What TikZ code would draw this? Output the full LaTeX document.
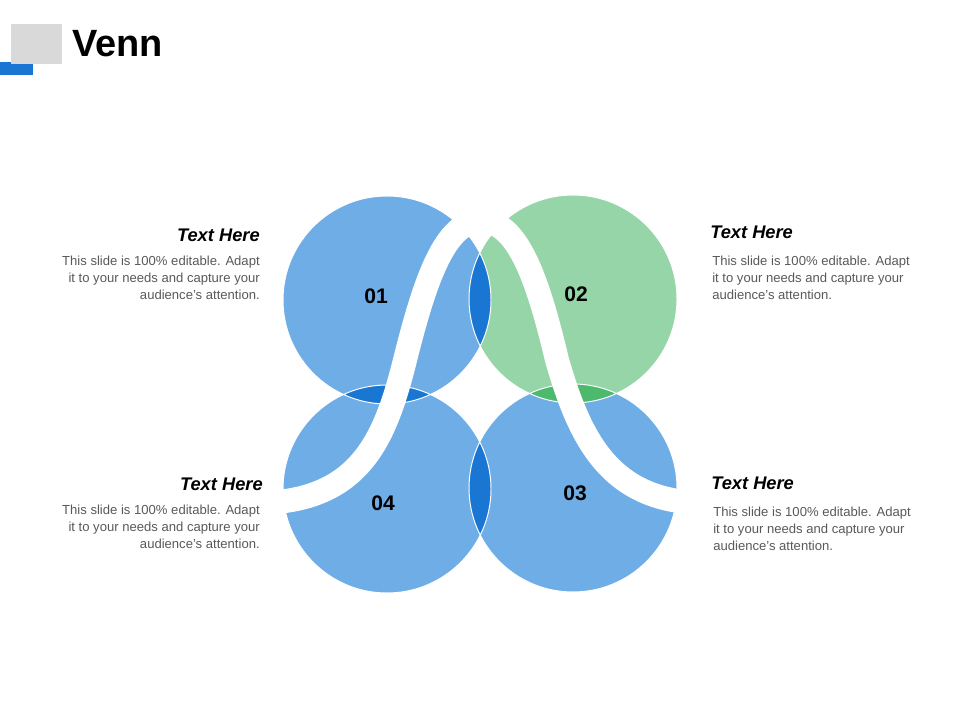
\documentclass[tikz,border=0pt]{standalone}
\usepackage{fontspec}
\setmainfont{Liberation Sans}

\definecolor{circblue}{HTML}{6FADE6}
\definecolor{lensblue}{HTML}{1976D2}
\definecolor{circgreen}{HTML}{95D5A7}
\definecolor{lensgreen}{HTML}{4CB96C}
\definecolor{headgray}{HTML}{D9D9D9}
\definecolor{bodygray}{HTML}{595959}

\begin{document}
\begin{tikzpicture}[x = 0.025cm, y = -0.025cm,
    heading/.style = {font = \fontsize{13}{15}\selectfont\bfseries\itshape, inner sep = 0},
    bodytext/.style = {font = \fontsize{9.3}{11.9}\selectfont, text = bodygray, inner sep = 0},
    number/.style = {font = \fontsize{15}{18}\selectfont\bfseries, inner sep = 0},
    lensedge/.style = {white, line width = 0.7pt}]

    \useasboundingbox (0, 0) rectangle (960, 720);

    \fill[lensblue] (0, 62) rectangle (33, 75);
    \fill[headgray] (11, 24) rectangle (62, 64);
    \node[anchor = base west, inner sep = 0, font = \fontsize{27}{30}\selectfont\bfseries] (title) at (72, 57) {Venn};

    \coordinate (c1) at (387, 300);
    \coordinate (c2) at (573, 299);
    \coordinate (c3) at (573, 488);
    \coordinate (c4) at (387, 489);

    \fill[circblue] (c1) circle[radius = 104];
    \fill[circgreen] (c2) circle[radius = 104];
    \fill[circblue] (c3) circle[radius = 104];
    \fill[circblue] (c4) circle[radius = 104];

    \begin{scope}
        \clip (c1) circle[radius = 104];
        \fill[lensblue] (c2) circle[radius = 104];
        \fill[lensblue] (c4) circle[radius = 104];
    \end{scope}
    \begin{scope}
        \clip (c3) circle[radius = 104];
        \fill[lensblue] (c4) circle[radius = 104];
        \fill[lensgreen] (c2) circle[radius = 104];
    \end{scope}
    \draw[lensedge] (c1) circle[radius = 104] (c2) circle[radius = 104]
        (c3) circle[radius = 104] (c4) circle[radius = 104];

    \coordinate (bandleft) at (262, 503);
    \coordinate (bandtop) at (481, 221);
    \coordinate (bandright) at (700, 503);
    \draw[white, line width = 17pt] (bandleft) .. controls (360, 500) and (385, 440) .. (405, 360)
        .. controls (425, 280) and (445, 221) .. (bandtop)
        .. controls (518, 221) and (538, 280) .. (557, 360)
        .. controls (580, 440) and (610, 500) .. (bandright);

    \node[number] (n1) at (376, 296) {01};
    \node[number] (n2) at (576, 294) {02};
    \node[number] (n3) at (575, 493) {03};
    \node[number] (n4) at (383, 503) {04};

    \node[heading, anchor = base east] (head1) at (260, 242) {Text Here};
    \node[bodytext, anchor = north east, align = right] (body1) at (260, 256)
        {This slide is 100\% editable. Adapt\\ it to your needs and capture your\\ audience’s attention.};

    \node[heading, anchor = base west] (head2) at (710, 239) {Text Here};
    \node[bodytext, anchor = north west, align = left] (body2) at (712, 256)
        {This slide is 100\% editable. Adapt\\ it to your needs and capture your\\ audience’s attention.};

    \node[heading, anchor = base east] (head4) at (263, 491) {Text Here};
    \node[bodytext, anchor = north east, align = right] (body4) at (260, 505)
        {This slide is 100\% editable. Adapt\\ it to your needs and capture your\\ audience’s attention.};

    \node[heading, anchor = base west] (head3) at (711, 490) {Text Here};
    \node[bodytext, anchor = north west, align = left] (body3) at (713, 507)
        {This slide is 100\% editable. Adapt\\ it to your needs and capture your\\ audience’s attention.};

\end{tikzpicture}
\end{document}
